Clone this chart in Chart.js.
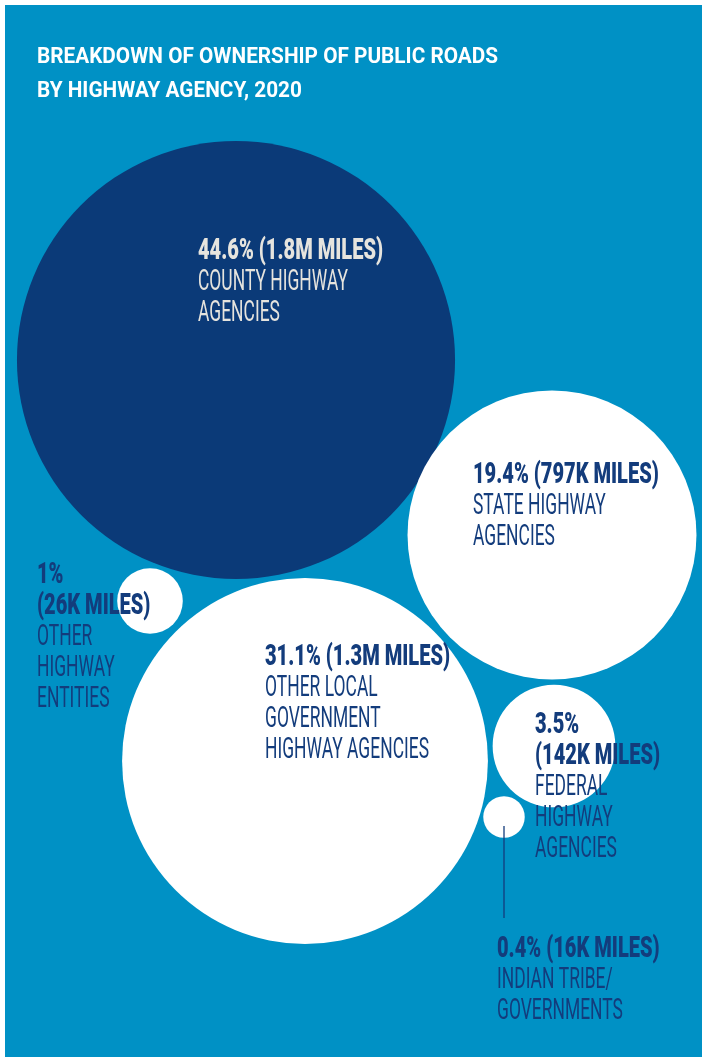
<!DOCTYPE html>
<html>
<head>
<meta charset="utf-8">
<script src="https://cdn.jsdelivr.net/npm/chart.js@4"></script>
<style>
  html, body { margin: 0; padding: 0; background: #ffffff; }
  #wrap { width: 702px; height: 1057px; position: relative; }
</style>
</head>
<body>
<div id="wrap"><canvas id="myChart"></canvas></div>
<script>
// data
var agencies = ["COUNTY HIGHWAY AGENCIES", "STATE HIGHWAY AGENCIES", "OTHER LOCAL GOVERNMENT HIGHWAY AGENCIES",
                "FEDERAL HIGHWAY AGENCIES", "OTHER HIGHWAY ENTITIES", "INDIAN TRIBE/ GOVERNMENTS"];
var shares = [44.6, 19.4, 31.1, 3.5, 1, 0.4];
var miles = ["1.8M", "797K", "1.3M", "142K", "26K", "16K"];

// layout (bubble centres in page pixels, label placement)
var centers = [[236, 360], [552, 535], [305, 761], [554, 746], [150, 601], [504, 817]];
var labelPos = [[198, 259], [473, 483], [265, 665], [535, 733], [37, 583], [497, 957]];
var labelLines = [
    ["COUNTY HIGHWAY", "AGENCIES"],
    ["STATE HIGHWAY", "AGENCIES"],
    ["OTHER LOCAL", "GOVERNMENT", "HIGHWAY AGENCIES"],
    ["FEDERAL", "HIGHWAY", "AGENCIES"],
    ["OTHER", "HIGHWAY", "ENTITIES"],
    ["INDIAN TRIBE/", "GOVERNMENTS"]
];
var splitHead = [false, false, false, true, true, false];
var fills = ["#0b3a78", "#ffffff", "#ffffff", "#ffffff", "#ffffff", "#ffffff"];
var textColors = ["#e6e4de", "#133c7c", "#133c7c", "#133c7c", "#133c7c", "#133c7c"];
var radiusScale = 32.8;

var points = shares.map(function (s, i) {
    return { x: centers[i][0], y: centers[i][1], r: radiusScale * Math.sqrt(s) };
});

function condensedText(ctx, text, x, y, sx) {
    ctx.save();
    ctx.translate(x, y);
    ctx.scale(sx, 1);
    ctx.fillText(text, 0, 0);
    ctx.restore();
}

var pagePlugin = {
    id: "page",
    beforeDraw: function (chart) {
        var ctx = chart.ctx;
        ctx.save();
        ctx.fillStyle = "#ffffff";
        ctx.fillRect(0, 0, chart.width, chart.height);
        ctx.fillStyle = "#0091c5";
        ctx.fillRect(5, 5, chart.width - 5, chart.height - 5);
        ctx.restore();
    },
    afterDatasetsDraw: function (chart) {
        var ctx = chart.ctx;
        var xs = chart.scales.x, ys = chart.scales.y;
        ctx.save();
        ctx.textBaseline = "alphabetic";
        ctx.textAlign = "left";

        // title
        ctx.font = "bold 22px Roboto";
        var tsx = 461 / ctx.measureText("BREAKDOWN OF OWNERSHIP OF PUBLIC ROADS").width;
        ctx.fillStyle = "#ffffff";
        condensedText(ctx, "BREAKDOWN OF OWNERSHIP OF PUBLIC ROADS", 37, 63, tsx);
        condensedText(ctx, "BY HIGHWAY AGENCY, 2020", 37, 97, tsx);

        // connector for the smallest bubble
        var last = points.length - 1;
        var px = xs.getPixelForValue(points[last].x);
        var py = ys.getPixelForValue(points[last].y);
        ctx.strokeStyle = "#133c7c";
        ctx.lineWidth = 1.3;
        ctx.beginPath();
        ctx.moveTo(px, py + 9);
        ctx.lineTo(px, 918);
        ctx.stroke();

        // labels
        ctx.font = "900 29px Roboto";
        var bsx = 185 / ctx.measureText("44.6% (1.8M MILES)").width;
        ctx.font = "29px Roboto";
        var rsx = 150 / ctx.measureText("COUNTY HIGHWAY").width;
        var lh = 31;
        shares.forEach(function (s, i) {
            var x = labelPos[i][0], y = labelPos[i][1];
            ctx.fillStyle = textColors[i];
            ctx.font = "900 29px Roboto";
            var head = s + "%";
            var tail = "(" + miles[i] + " MILES)";
            if (splitHead[i]) {
                condensedText(ctx, head, x, y, bsx);
                y += lh;
                condensedText(ctx, tail, x, y, bsx);
            } else {
                condensedText(ctx, head + " " + tail, x, y, bsx);
            }
            ctx.font = "29px Roboto";
            labelLines[i].forEach(function (line) {
                y += lh;
                condensedText(ctx, line, x, y, rsx);
            });
        });
        ctx.restore();
    }
};

var ctx = document.getElementById("myChart").getContext("2d");

var myChart = new Chart(ctx, {
    type: "bubble",
    data: {
        labels: agencies,
        datasets: [
            {
                label: "Share of public road miles",
                data: points,
                backgroundColor: fills,
                borderWidth: 0,
                hoverRadius: 0
            }
        ]
    },
    options: {
        responsive: true,
        maintainAspectRatio: false,
        animation: false,
        events: [],
        layout: { padding: 0, autoPadding: false },
        clip: false,
        scales: {
            x: { type: "linear", min: 0, max: 702, display: false },
            y: { type: "linear", min: 0, max: 1057, reverse: true, display: false }
        },
        plugins: {
            legend: { display: false },
            tooltip: { enabled: false }
        }
    },
    plugins: [pagePlugin]
});
</script>
</body>
</html>
